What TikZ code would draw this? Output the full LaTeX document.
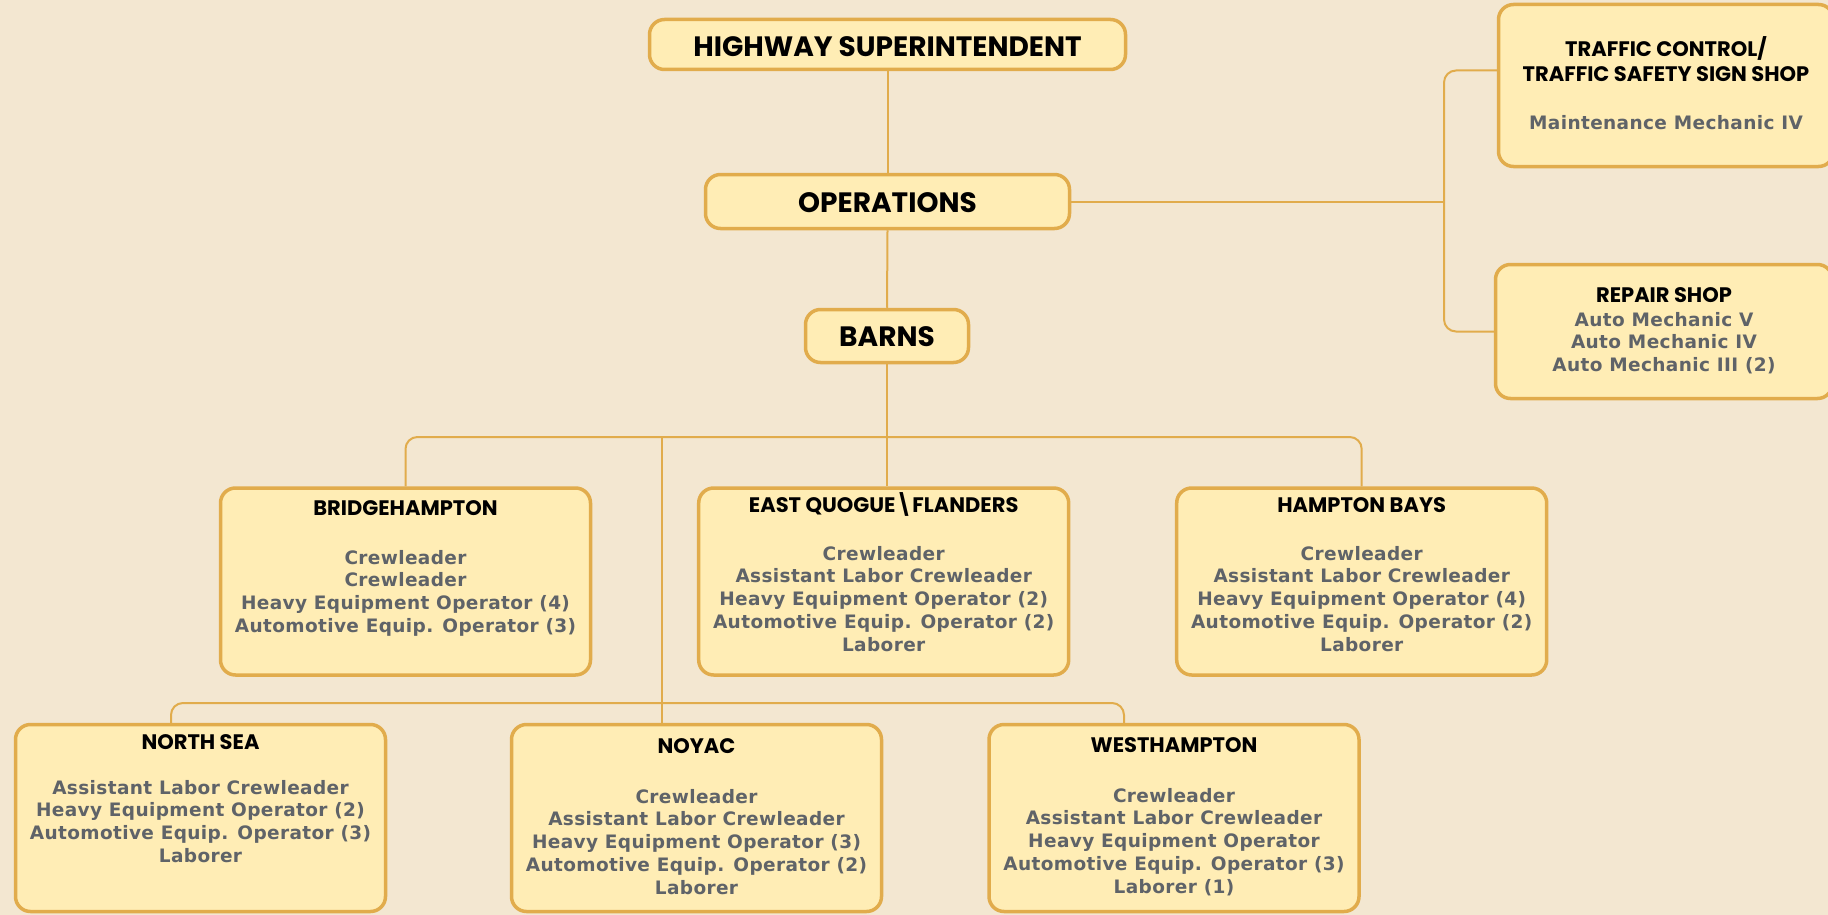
\documentclass[tikz,border=0pt]{standalone}
\usepackage{fontspec}
\setmainfont{DejaVu Sans}
\newfontfamily\headfont{Poppins}
\newfontfamily\rolefont{DejaVu Sans}[LetterSpace=2]
\usetikzlibrary{positioning}

\definecolor{paper}{RGB}{243,231,209}
\definecolor{boxfill}{RGB}{255,237,181}
\definecolor{boxline}{RGB}{225,172,76}
\definecolor{roletext}{RGB}{95,99,104}

\begin{document}
\begin{tikzpicture}[
        x=1pt,
        y=-1pt,
        unitbox/.style={
            rectangle,
            rounded corners=15pt,
            draw=boxline,
            line width=3.5pt,
            fill=boxfill,
            minimum width=370pt,
            minimum height=187pt,
            inner sep=0pt
        },
        topbox/.style={
            unitbox,
            minimum height=53pt
        },
        head/.style={font=\headfont\bfseries\fontsize{21}{25}\selectfont, inner sep=0pt, align=center, anchor=base},
        bighead/.style={font=\headfont\bfseries\fontsize{28}{32}\selectfont, inner sep=0pt, anchor=base},
        roles/.style={font=\rolefont\bfseries\fontsize{18.5}{22.7}\selectfont, text=roletext, inner sep=0pt, anchor=north, align=center},
        link/.style={draw=boxline, line width=2pt, rounded corners=12pt}
    ]
    \fill[paper] (0,0) rectangle (1828,915);
    \useasboundingbox (0,0) rectangle (1828,915);

    % Top of the tree
    \node[topbox, minimum width=476pt, minimum height=50pt] (super) at (887.5,44.5) {};
    \node[bighead] (super-t) at (887.5,57) {HIGHWAY SUPERINTENDENT};

    \node[topbox, minimum width=364pt, minimum height=54pt] (ops) at (887.5,201.5) {};
    \node[bighead] (ops-t) at (887.5,212) {OPERATIONS};

    \node[topbox, minimum width=163pt] (barns) at (887,336) {};
    \node[bighead] (barns-t) at (887,346) {BARNS};

    % Shops
    \node[unitbox, minimum width=335pt, minimum height=162pt] (traffic) at (1666,85.5) {};
    \node[head, anchor=north] (traffic-t) at (1666,36) {TRAFFIC CONTROL/\\TRAFFIC SAFETY SIGN SHOP};
    \node[roles] (traffic-r) at (1666,115) {Maintenance Mechanic IV};

    \node[unitbox, minimum width=337pt, minimum height=134pt] (repair) at (1664,331.5) {};
    \node[head] (repair-t) at (1664,302.5) {REPAIR SHOP};
    \node[roles] (repair-r) at (1664,312) {Auto Mechanic V\\Auto Mechanic IV\\Auto Mechanic III (2)};

    % Barns, first row
    \node[unitbox] (bridge) at (405.5,581.5) {};
    \node[head] (bridge-t) at (405.5,515.5) {BRIDGEHAMPTON};
    \node[roles] (bridge-r) at (405.5,550) {Crewleader\\Crewleader\\Heavy Equipment Operator (4)\\Automotive Equip. Operator (3)};

    \node[unitbox] (eq) at (883.7,581.5) {};
    \node[head] (eq-t) at (883.7,512.5) {EAST QUOGUE\textbackslash FLANDERS};
    \node[roles] (eq-r) at (883.7,546) {Crewleader\\Assistant Labor Crewleader\\Heavy Equipment Operator (2)\\Automotive Equip. Operator (2)\\Laborer};

    \node[unitbox] (hb) at (1361.7,581.5) {};
    \node[head] (hb-t) at (1361.7,512.5) {HAMPTON BAYS};
    \node[roles] (hb-r) at (1361.7,546) {Crewleader\\Assistant Labor Crewleader\\Heavy Equipment Operator (4)\\Automotive Equip. Operator (2)\\Laborer};

    % Barns, second row
    \node[unitbox] (nsea) at (200.5,818) {};
    \node[head] (nsea-t) at (200.5,749.5) {NORTH SEA};
    \node[roles] (nsea-r) at (200.5,780) {Assistant Labor Crewleader\\Heavy Equipment Operator (2)\\Automotive Equip. Operator (3)\\Laborer};

    \node[unitbox] (noyac) at (696.5,818) {};
    \node[head] (noyac-t) at (696.5,753.5) {NOYAC};
    \node[roles] (noyac-r) at (696.5,789) {Crewleader\\Assistant Labor Crewleader\\Heavy Equipment Operator (3)\\Automotive Equip. Operator (2)\\Laborer};

    \node[unitbox] (westh) at (1174,818) {};
    \node[head] (westh-t) at (1174,752.5) {WESTHAMPTON};
    \node[roles] (westh-r) at (1174,788) {Crewleader\\Assistant Labor Crewleader\\Heavy Equipment Operator\\Automotive Equip. Operator (3)\\Laborer (1)};

    % Connectors
    \draw[link] (super.south) -- (ops.north);
    \draw[link] (ops.south) -- (barns.north);

    \coordinate (rjoint) at (1444,201.5);
    \draw[link] (ops.east) -- (rjoint);
    \draw[link] ([yshift=15pt]traffic.west) -| (rjoint) |- (repair.west);

    \coordinate (bus) at (887,437);
    \draw[link] (barns.south) -- (barns.south |- eq.north);
    \draw[link] (bridge.north) |- (bus) -| (hb.north);

    \coordinate (drop) at (662,437);
    \coordinate (bus2) at (662,703);
    \draw[link] (drop) -- (drop |- noyac.north);
    \draw[link] ([xshift=-29.5pt]nsea.north) |- (bus2) -| ([xshift=-50pt]westh.north);
\end{tikzpicture}
\end{document}
